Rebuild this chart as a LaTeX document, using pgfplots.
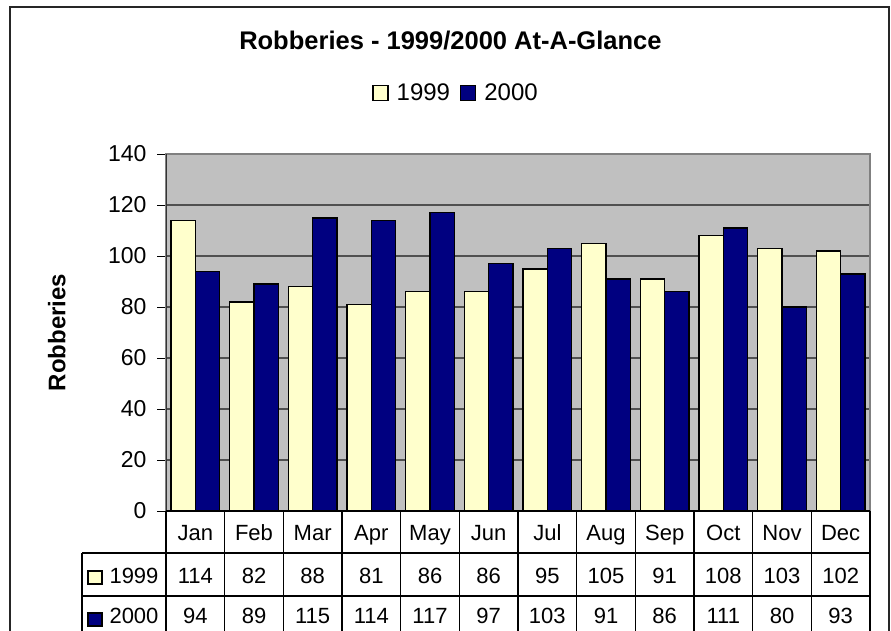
\documentclass[border=0pt]{standalone}
\usepackage{pgfplots}
\usepackage{pgfplotstable}
\pgfplotsset{compat=1.18}
\usepackage{fontspec}
\setmainfont{Liberation Sans}

\definecolor{pale}{HTML}{FFFFCC}
\definecolor{navy}{HTML}{000080}
\definecolor{wall}{HTML}{C0C0C0}
\definecolor{gridgray}{HTML}{505050}

% monthly robbery counts
\pgfplotstableread{
month y1999 y2000
Jan 114 94
Feb 82 89
Mar 88 115
Apr 81 114
May 86 117
Jun 86 97
Jul 95 103
Aug 105 91
Sep 91 86
Oct 108 111
Nov 103 80
Dec 102 93
}\robberies

\newcommand\cellfont{\fontsize{22}{24}\selectfont}
\pgfplotsset{keybox/.style={legend image code/.code={
  \draw[##1, draw=black, line width=1.2pt] (0pt,-7.5pt) rectangle (15pt,7.5pt);
  \path (21pt,0pt);}}}

\begin{document}
\begin{tikzpicture}[x=1pt,y=1pt]
\clip (0,0) rectangle (891,630);
\fill[white] (0,0) rectangle (891,630);
\draw[black!85, line width=1.3pt] (10,-5) -- (10,623) -- (889,623) -- (889,-5);
\begin{axis}[
    at={(166pt,119pt)}, anchor=south west,
    scale only axis, width=704pt, height=357pt,
    ybar=0pt, bar width=24.4pt,
    xmin=-0.5, xmax=11.5, ymin=0, ymax=140,
    ytick={0,20,...,140}, ytick pos=left,
    xtick={0,...,11},
    xticklabels from table={\robberies}{month},
    xtick style={draw=none},
    ytick style={draw=black, line width=1pt},
    tick align=outside, major tick length=9pt,
    xticklabel style={font=\cellfont, anchor=base, yshift=-20pt},
    yticklabel style={font=\fontsize{23}{25}\selectfont, xshift=-7pt},
    /pgf/number format/assume math mode=true,
    axis background/.style={fill=wall},
    axis line style={draw=black!50, line width=1.2pt},
    ymajorgrids, grid style={draw=gridgray, line width=1.3pt},
    title={Robberies - 1999/2000 At-A-Glance},
    title style={at={(axis description cs:0.404,1)}, anchor=base,
      yshift=98.5pt, font=\bfseries\fontsize{25.5}{27}\selectfont},
    ylabel={Robberies},
    ylabel style={at={(axis description cs:-0.155,0.5)}, anchor=center,
      font=\bfseries\fontsize{24}{26}\selectfont},
    legend columns=2,
    legend style={at={(axis description cs:0.412,1)}, anchor=center,
      yshift=61pt, draw=none, fill=none,
      font=\fontsize{24}{26}\selectfont,
      /tikz/every even column/.append style={column sep=8pt}},
]
\addplot[fill=pale, draw=black, line width=1.5pt, keybox]
  table[x expr=\coordindex, y=y1999] {\robberies};
\addplot[fill=navy, draw=black, line width=1.5pt, keybox]
  table[x expr=\coordindex, y=y2000] {\robberies};
\legend{1999,2000}
\draw[black!80, line width=1.3pt] (rel axis cs:0,0) -- (rel axis cs:0,1);
\draw[black, line width=1.3pt] (rel axis cs:0,0) -- (rel axis cs:1,0);
\end{axis}
% data table under the plot
\begin{scope}[line width=1.3pt, draw=black]
\draw (82,77) -- (870,77);
\draw (82,34) -- (870,34);
\draw (82,-9) -- (870,-9);
\draw (82,77) -- (82,-20);
\foreach \k in {0,...,12} \draw ({166+58.667*\k},119) -- ++(0,-140);
\end{scope}
\draw[fill=pale, line width=1.2pt] (88,46) rectangle (102,59);
\draw[fill=navy, line width=1.2pt] (88,4) rectangle (102,17);
\node[font=\cellfont, anchor=base west] at (106,47) {1999};
\node[font=\cellfont, anchor=base west] at (106,7) {2000};
\foreach \i in {0,...,11} {
  \pgfplotstablegetelem{\i}{y1999}\of\robberies
  \node[font=\cellfont, anchor=base] at ({166+58.667*(\i+0.5)},47) {\pgfplotsretval};
  \pgfplotstablegetelem{\i}{y2000}\of\robberies
  \node[font=\cellfont, anchor=base] at ({166+58.667*(\i+0.5)},7) {\pgfplotsretval};
}
\end{tikzpicture}
\end{document}
